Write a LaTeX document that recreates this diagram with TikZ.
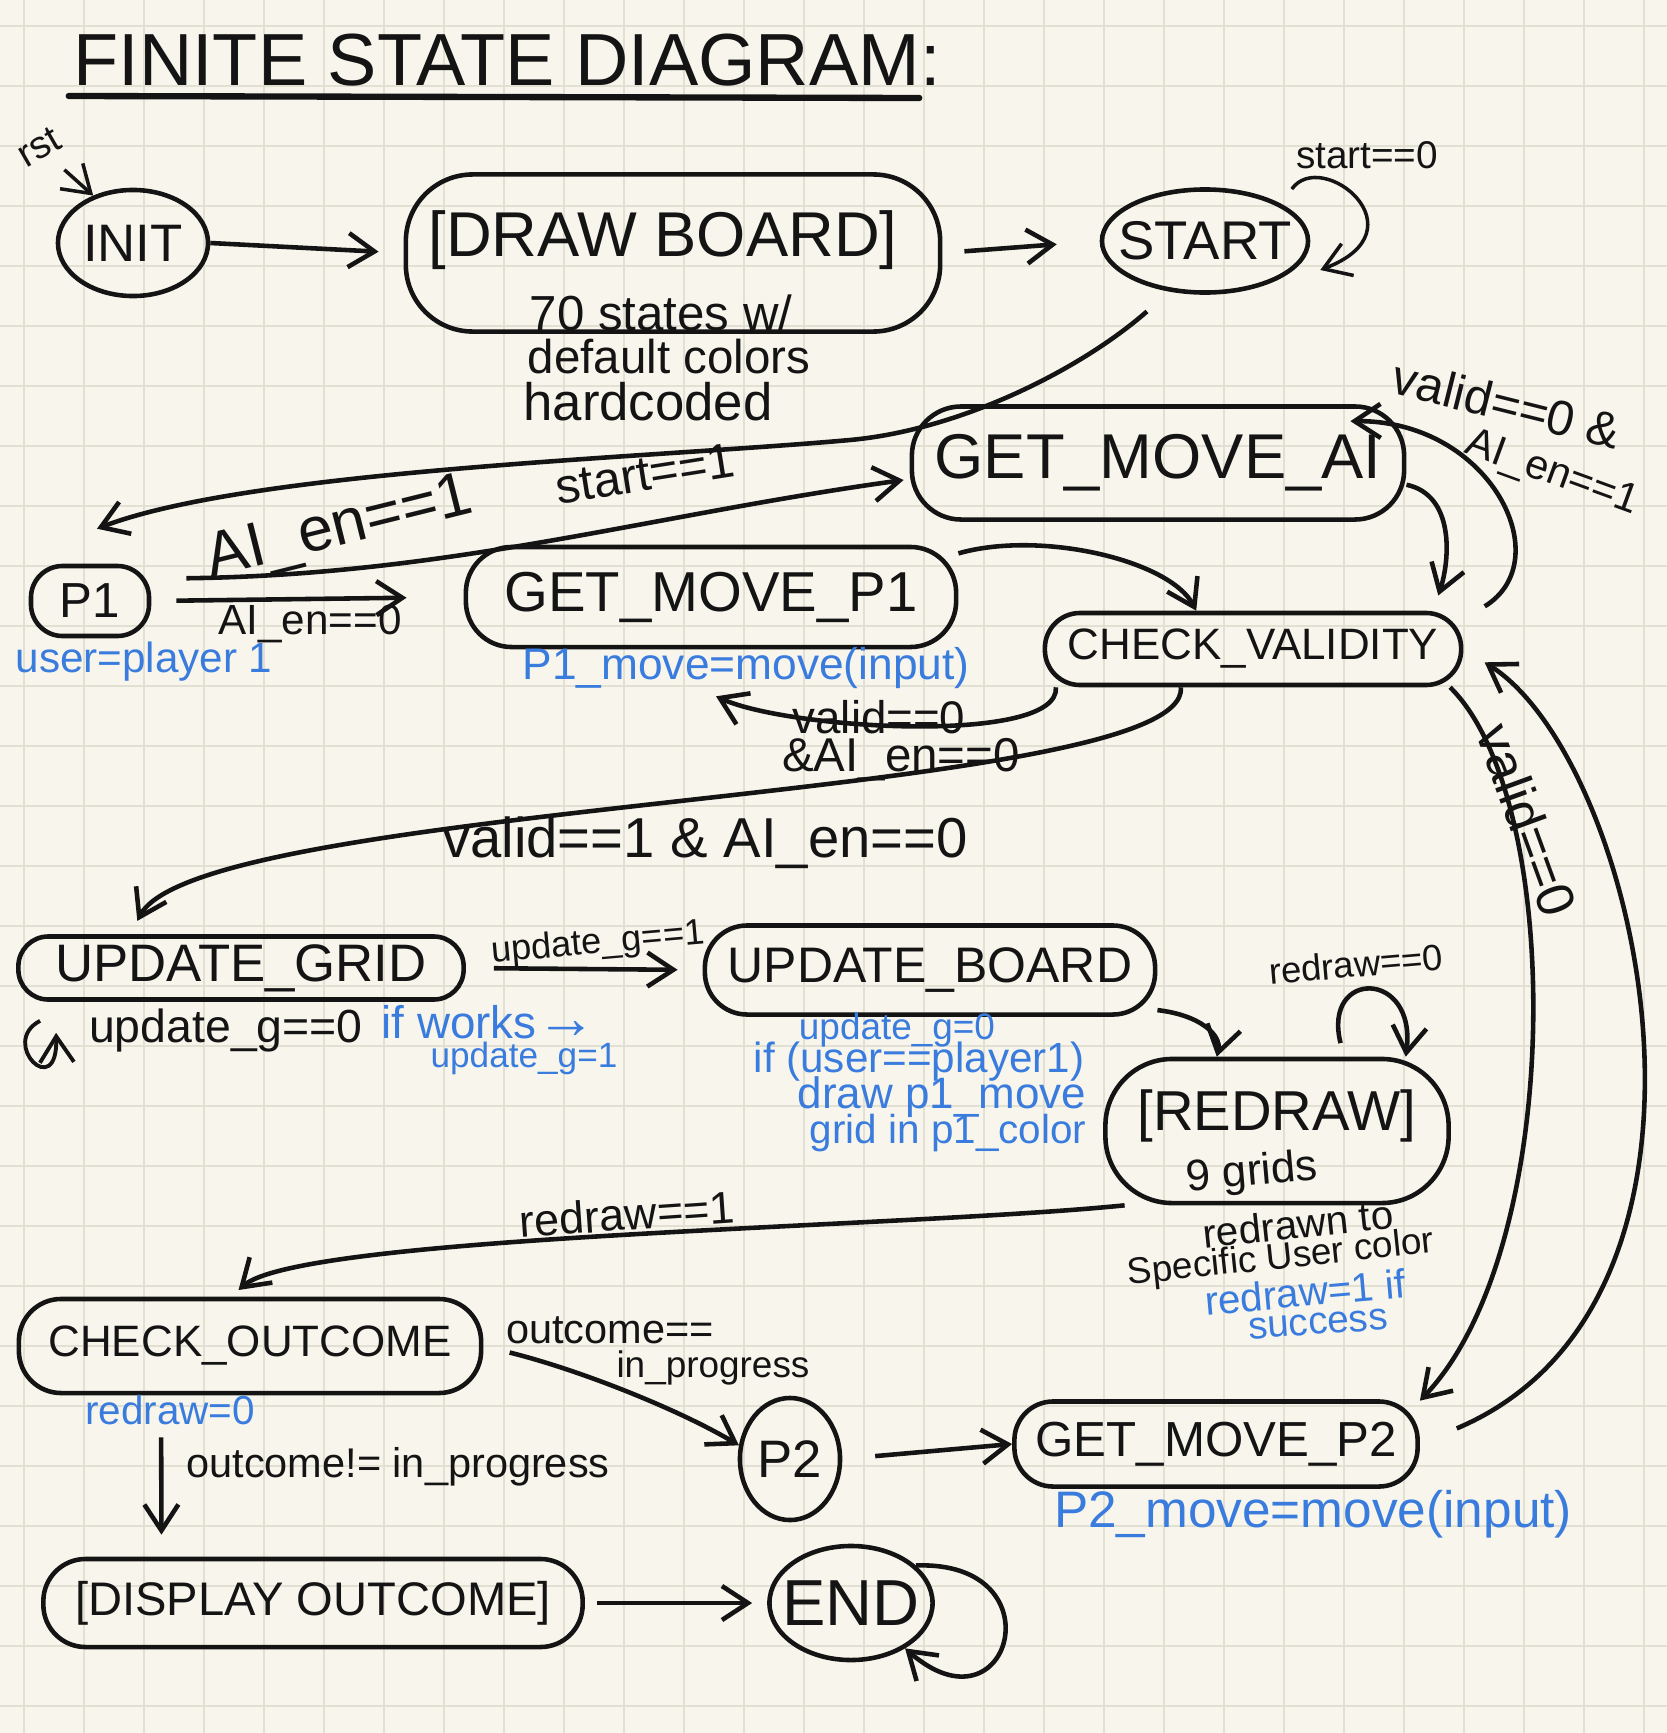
\documentclass[tikz,border=0pt]{standalone}
\usepackage{fontspec}
\setmainfont{Liberation Sans}
\usetikzlibrary{arrows.meta, shapes.geometric}
\definecolor{paper}{RGB}{248,246,236}
\definecolor{gridline}{RGB}{226,223,211}
\definecolor{ink}{RGB}{20,20,20}
\definecolor{pen}{RGB}{58,124,222}
\newcommand{\hand}[1]{\fontsize{#1}{#1}\selectfont}

\begin{document}
\begin{tikzpicture}[x=0.01cm, y=-0.01cm,
	blob/.style={draw=ink, line width=1.3pt, rounded corners=9pt, inner sep=0pt, text=ink},
	oval/.style={draw=ink, ellipse, line width=1.3pt, inner sep=0pt, text=ink},
	wire/.style={draw=ink, line width=1.3pt, -{Straight Barb[length=0.26cm,width=0.34cm]}},
	lbl/.style={text=ink, inner sep=0pt},
	note/.style={text=pen, inner sep=0pt}]
	% Paper:
	\useasboundingbox (0,0) rectangle (1667,1733);
	\fill[paper] (0,0) rectangle (1667,1733);
	\foreach \gx in {24,84,...,1667} \draw[gridline, line width=0.7pt] (\gx,0) -- (\gx,1733);
	\foreach \gy in {26,86,...,1733} \draw[gridline, line width=0.7pt] (0,\gy) -- (1667,\gy);
	% Title:
	\node[lbl, font=\hand{21}] (title) at (507,60) {FINITE STATE DIAGRAM:};
	\draw[ink, line width=1.8pt, line cap=round] ([shift={(-4,36)}]title.west) -- ([shift={(-22,38)}]title.east);
	% States:
	\node[lbl, font=\hand{11}, rotate=30] (rst) at (39,147) {rst};
	\node[oval, minimum width=1.50cm, minimum height=1.06cm, font=\hand{15}] (init) at (133,243) {INIT};
	\node[blob, rounded corners=19pt, minimum width=5.34cm, minimum height=1.57cm] (board) at (673,253) {};
	\node[lbl, font=\hand{18}] (boardtxt) at (663,240) {[DRAW BOARD]};
	\node[lbl, font=\hand{14}] (boardnote1) at (661,313) {70 states w/};
	\node[lbl, font=\hand{13.5}] (boardnote2) at (669,357) {default colors};
	\node[lbl, font=\hand{15}] (boardnote3) at (648,402) {hardcoded};
	\node[oval, inner xsep=-0.17cm, minimum width=2.06cm, minimum height=1.03cm, font=\hand{15.5}] (start) at (1205,241) {START};
	\node[blob, minimum width=1.18cm, minimum height=0.70cm, font=\hand{14}] (pone) at (90,601) {P1};
	\node[note, font=\hand{12}] (poneuser) at (144,662) {user=player 1};
	\node[blob, rounded corners=14pt, minimum width=4.92cm, minimum height=1.13cm, font=\hand{18}] (gmai) at (1158,463) {GET\_MOVE\_AI};
	\node[blob, rounded corners=13pt, minimum width=4.90cm, minimum height=1.00cm, font=\hand{16}] (gmpone) at (711,597) {GET\_MOVE\_P1};
	\node[note, font=\hand{12.6}] (gmponenote) at (746,668) {P1\_move=move(input)};
	\node[blob, rounded corners=10pt, minimum width=4.16cm, minimum height=0.72cm, font=\hand{12.5}] (check) at (1253,649) {CHECK\_VALIDITY};
	\node[blob, rounded corners=8.5pt, minimum width=4.45cm, minimum height=0.63cm, font=\hand{15}] (ugrid) at (241,968) {UPDATE\_GRID};
	\node[blob, rounded corners=12pt, minimum width=4.50cm, minimum height=0.89cm, font=\hand{14.2}] (uboard) at (930,970) {UPDATE\_BOARD};
	\node[blob, rounded corners=19pt, minimum width=3.43cm, minimum height=1.44cm] (redraw) at (1277,1131) {};
	\node[lbl, font=\hand{16}] (redrawtxt) at (1277,1116) {[REDRAW]};
	\node[lbl, font=\hand{12.5}, rotate=5] (redrawnote1) at (1252,1174) {9 grids};
	\node[lbl, font=\hand{11.5}, rotate=6] (redrawnote2) at (1298,1224) {redrawn to};
	\node[lbl, font=\hand{10.5}, rotate=6] (redrawnote3) at (1281,1259) {Specific User color};
	\node[note, font=\hand{11.5}, rotate=5] (redrawnote4) at (1305,1292) {redraw=1 if};
	\node[note, font=\hand{11}, rotate=4] (redrawnote5) at (1318,1324) {success};
	\node[blob, rounded corners=12pt, minimum width=4.62cm, minimum height=0.94cm, font=\hand{12.5}] (coutcome) at (250,1346) {CHECK\_OUTCOME};
	\node[note, font=\hand{11.5}] (coutcomenote) at (170,1410) {redraw=0};
	\node[oval, minimum width=1.00cm, minimum height=1.22cm, font=\hand{15}] (ptwo) at (790,1459) {P2};
	\node[blob, rounded corners=11pt, minimum width=4.03cm, minimum height=0.85cm, font=\hand{14}] (gmptwo) at (1216,1444) {GET\_MOVE\_P2};
	\node[note, font=\hand{14.6}] (gmptwonote) at (1313,1514) {P2\_move=move(input)};
	\node[blob, rounded corners=12pt, minimum width=5.39cm, minimum height=0.88cm, font=\hand{13.4}] (display) at (313,1603) {[DISPLAY OUTCOME]};
	\node[oval, inner xsep=-0.11cm, minimum width=1.62cm, minimum height=1.14cm, font=\hand{18.5}] (finish) at (851,1603) {END};
	% Edge labels:
	\node[lbl, font=\hand{11}] (lstartzero) at (1367,155) {start==0};
	\node[lbl, font=\hand{14}, rotate=9] (lstartone) at (645,474) {start==1};
	\node[lbl, font=\hand{17.8}, rotate=14] (laione) at (340,530) {AI\_en==1};
	\node[lbl, font=\hand{12}] (laizero) at (310,624) {AI\_en==0};
	\node[lbl, font=\hand{14}, rotate=-14] (lvalidai1) at (1507,404) {valid==0 \&};
	\node[lbl, font=\hand{11.8}, rotate=-20] (lvalidai2) at (1552,474) {AI\_en==1};
	\node[lbl, font=\hand{13}] (lvalidp1a) at (879,717) {valid==0};
	\node[lbl, font=\hand{13.5}] (lvalidp1b) at (901,760) {\&AI\_en==0};
	\node[lbl, font=\hand{16}] (lvalidone) at (705,843) {valid==1 \& AI\_en==0};
	\node[lbl, font=\hand{15}, rotate=-70] (lvalidp2) at (1527,820) {valid==0};
	\node[lbl, font=\hand{10.3}, rotate=5] (lupdone) at (598,944) {update\_g==1};
	\node[lbl, font=\hand{13.2}] (lupdzero) at (226,1030) {update\_g==0};
	\node[note, font=\hand{13}] (ugridnote1) at (489,1022) {if works{\hand{17}→}};
	\node[note, font=\hand{10}] (ugridnote2) at (524,1058) {update\_g=1};
	\node[note, font=\hand{10.5}] (uboardnote1) at (897,1030) {update\_g=0};
	\node[note, font=\hand{12}] (uboardnote2) at (919,1062) {if (user==player1)};
	\node[note, font=\hand{12.5}] (uboardnote3) at (942,1097) {draw p1\_move};
	\node[note, font=\hand{11.5}] (uboardnote4) at (948,1133) {grid in p1\_color};
	\node[lbl, font=\hand{10.4}, rotate=5] (lredrawzero) at (1356,964) {redraw==0};
	\node[lbl, font=\hand{12.8}, rotate=4] (lredrawone) at (627,1214) {redraw==1};
	\node[lbl, font=\hand{11.8}] (lprog1) at (610,1330) {outcome==};
	\node[lbl, font=\hand{10.5}] (lprog2) at (713,1368) {in\_progress};
	\node[lbl, font=\hand{11.8}] (ldone) at (398,1467) {outcome!= in\_progress};
	% Transitions:
	\draw[wire, line width=1pt, shorten <=0.2cm] (rst) -- (init.130);
	\draw[wire, shorten >=0.25cm] (init.east) -- (board.west);
	\draw[wire, shorten <=0.22cm, shorten >=0.43cm] (board.east) -- (start.west);
	\draw[wire, line width=1pt] ([shift={(32,-6)}]start.40) .. controls +(30,-42) and +(105,-40) .. ([shift={(22,4)}]start.-15);
	\draw[wire, shorten <=0.3cm] (start.-125) .. controls (1080,370) and (960,430) .. (850,440) .. controls (650,458) and (250,470) .. ([shift={(7,-35)}]pone.north);
	\draw[wire, shorten <=0.35cm] (pone.20) .. controls (450,575) and (650,515) .. ([shift={(-6,17)}]gmai.west);
	\draw[wire, shorten <=0.25cm, shorten >=0.57cm] (pone.east) -- (gmpone.west);
	\draw[wire, shorten >=0.16cm] (gmai.-5) .. controls (1455,495) and (1450,560) .. (check.12);
	\draw[wire, shorten <=0.25cm] (check.8) .. controls (1560,560) and (1490,420) .. ([shift={(0,17)}]gmai.17);
	\draw[wire] (gmpone.10) .. controls (1040,530) and (1170,560) .. (check.146);
	\draw[wire] (check.191) .. controls (1060,745) and (790,730) .. ([shift={(5,47)}]gmpone.south);
	\draw[wire, shorten >=0.15cm] (check.208) .. controls (1190,800) and (200,800) .. (ugrid.163);
	\draw[wire] (check.-11) .. controls (1565,800) and (1565,1250) .. (gmptwo.12);
	\draw[wire, shorten <=0.4cm, shorten >=0.25cm] (gmptwo.east) .. controls (1760,1300) and (1640,760) .. (check.east);
	\draw[wire, line width=1.1pt] ([shift={(24,19)}]ugrid.south west) .. controls +(-42,22) and +(2,70) .. ([shift={(40,31)}]ugrid.south west);
	\draw[wire, shorten <=0.28cm, shorten >=0.25cm] (ugrid.east) -- (uboard.west);
	\draw[wire] (uboard.-10) .. controls (1200,1015) and (1222,1035) .. (redraw.129);
	\draw[wire, shorten <=0.14cm] (redraw.48) .. controls (1322,969) and (1417,969) .. (redraw.30);
	\draw[wire, shorten >=0.1cm] (redraw.206) .. controls (900,1228) and (300,1235) .. (coutcome.111);
	\draw[wire, shorten <=0.27cm] (coutcome.east) .. controls (580,1370) and (680,1410) .. (ptwo.165);
	\draw[wire, shorten <=0.42cm, shorten >=0.22cm] (coutcome.209) -- (display.163);
	\draw[wire, shorten <=0.33cm] (ptwo.east) -- (gmptwo.west);
	\draw[wire, shorten <=0.12cm, shorten >=0.15cm] (display.east) -- (finish.west);
	\draw[wire] (finish.30) .. controls (1060,1560) and (1010,1740) .. (finish.-40);
\end{tikzpicture}
\end{document}
